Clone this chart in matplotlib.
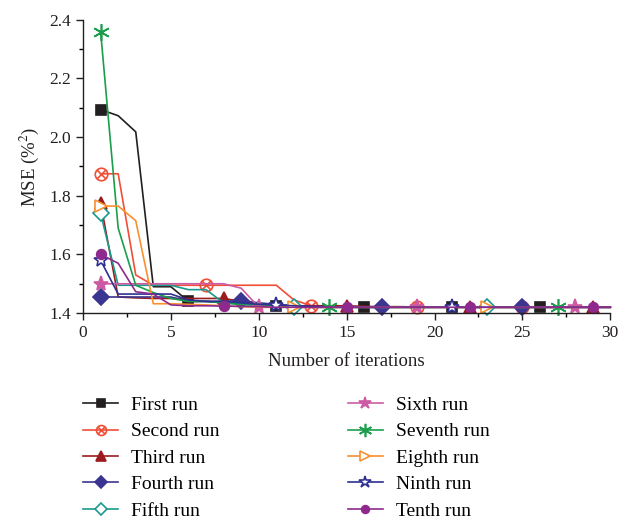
import numpy as np
import matplotlib
matplotlib.use("Agg")
import matplotlib.pyplot as plt
from matplotlib.path import Path
from matplotlib.ticker import MultipleLocator

plt.rcParams["font.family"] = ["Liberation Serif", "DejaVu Serif"]
plt.rcParams["mathtext.fontset"] = "stix"

iterations = list(range(1, 31))

first_run = [2.094, 2.073, 2.018, 1.490, 1.490, 1.440, 1.440, 1.435, 1.432, 1.430,
             1.425, 1.422, 1.420, 1.420, 1.420, 1.420, 1.420, 1.420, 1.420, 1.420,
             1.420, 1.420, 1.420, 1.420, 1.420, 1.420, 1.420, 1.420, 1.420, 1.420]
second_run = [1.875, 1.875, 1.530, 1.495, 1.495, 1.495, 1.495, 1.495, 1.495, 1.495,
              1.495, 1.445, 1.425, 1.425, 1.422, 1.420, 1.420, 1.420, 1.420, 1.420,
              1.420, 1.420, 1.420, 1.420, 1.420, 1.420, 1.420, 1.420, 1.420, 1.420]
third_run = [1.775, 1.455, 1.452, 1.450, 1.450, 1.450, 1.450, 1.450, 1.440, 1.432,
             1.428, 1.425, 1.425, 1.425, 1.425, 1.423, 1.422, 1.422, 1.421, 1.421,
             1.420, 1.420, 1.420, 1.420, 1.420, 1.420, 1.420, 1.420, 1.420, 1.420]
fourth_run = [1.455, 1.455, 1.455, 1.455, 1.455, 1.440, 1.440, 1.440, 1.443, 1.435,
              1.430, 1.425, 1.423, 1.422, 1.421, 1.420, 1.420, 1.420, 1.420, 1.420,
              1.420, 1.420, 1.420, 1.420, 1.420, 1.420, 1.420, 1.420, 1.420, 1.420]
fifth_run = [1.740, 1.495, 1.495, 1.495, 1.495, 1.480, 1.480, 1.435, 1.430, 1.425,
             1.422, 1.420, 1.420, 1.420, 1.420, 1.420, 1.420, 1.420, 1.420, 1.420,
             1.420, 1.420, 1.420, 1.420, 1.420, 1.420, 1.420, 1.420, 1.420, 1.420]
sixth_run = [1.500, 1.500, 1.500, 1.500, 1.500, 1.500, 1.500, 1.500, 1.485, 1.420,
             1.420, 1.420, 1.420, 1.420, 1.420, 1.420, 1.420, 1.420, 1.420, 1.420,
             1.420, 1.420, 1.420, 1.420, 1.420, 1.420, 1.420, 1.420, 1.420, 1.420]
seventh_run = [2.360, 1.690, 1.495, 1.470, 1.450, 1.440, 1.440, 1.435, 1.430, 1.430,
               1.425, 1.420, 1.420, 1.420, 1.420, 1.420, 1.420, 1.420, 1.420, 1.420,
               1.420, 1.420, 1.420, 1.420, 1.420, 1.420, 1.420, 1.420, 1.420, 1.420]
eighth_run = [1.765, 1.765, 1.715, 1.432, 1.432, 1.430, 1.428, 1.425, 1.422, 1.420,
              1.420, 1.420, 1.420, 1.420, 1.420, 1.420, 1.420, 1.420, 1.420, 1.420,
              1.420, 1.420, 1.420, 1.420, 1.420, 1.420, 1.420, 1.420, 1.420, 1.420]
ninth_run = [1.580, 1.465, 1.465, 1.465, 1.465, 1.445, 1.440, 1.440, 1.435, 1.430,
             1.428, 1.425, 1.422, 1.420, 1.420, 1.420, 1.420, 1.420, 1.420, 1.420,
             1.420, 1.420, 1.420, 1.420, 1.420, 1.420, 1.420, 1.420, 1.420, 1.420]
tenth_run = [1.600, 1.570, 1.473, 1.465, 1.428, 1.425, 1.425, 1.424, 1.423, 1.422,
             1.420, 1.420, 1.420, 1.420, 1.420, 1.420, 1.420, 1.420, 1.420, 1.420,
             1.420, 1.420, 1.420, 1.420, 1.420, 1.420, 1.420, 1.420, 1.420, 1.420]

labels = ["First run", "Second run", "Third run", "Fourth run", "Fifth run",
          "Sixth run", "Seventh run", "Eighth run", "Ninth run", "Tenth run"]

# circle with a cross inside, for the second run
circ = Path.unit_circle()
k = np.sqrt(0.5)
cross = Path([(-k, -k), (k, k), (-k, k), (k, -k)],
             [Path.MOVETO, Path.LINETO, Path.MOVETO, Path.LINETO])
otimes = Path.make_compound_path(circ, cross)

styles = [
    dict(color="#231f20", marker="s", ms=7, mfc="#231f20", every=5),
    dict(color="#f04e37", marker=otimes, ms=9, mfc="none", every=6),
    dict(color="#9b1b1e", marker="^", ms=9, mfc="#9b1b1e", every=7),
    dict(color="#3a3590", marker="D", ms=8, mfc="#3a3590", every=8),
    dict(color="#1a9a8f", marker="D", ms=8, mfc="white", every=11),
    dict(color="#cc5ba3", marker="*", ms=11, mfc="#cc5ba3", every=9),
    dict(color="#1b9e4b", marker=(6, 2, 0), ms=12, mfc="#1b9e4b", every=13),
    dict(color="#f7902f", marker=">", ms=9, mfc="white", every=11),
    dict(color="#2e3192", marker="*", ms=11, mfc="white", every=10),
    dict(color="#8e2a8e", marker="o", ms=7, mfc="#8e2a8e", every=7),
]
series = [first_run, second_run, third_run, fourth_run, fifth_run,
          sixth_run, seventh_run, eighth_run, ninth_run, tenth_run]

fig = plt.figure(figsize=(6.21, 5.21), dpi=100)
ax = fig.add_axes([0.1337, 0.399, 0.849, 0.563])

handles = []
for y, lab, st in zip(series, labels, styles):
    h, = ax.plot(iterations, y, color=st["color"], lw=1.2, marker=st["marker"],
                 ms=st["ms"], mfc=st["mfc"], mec=st["color"], mew=1.2,
                 markevery=slice(0, None, st["every"]), label=lab, clip_on=False)
    handles.append(h)

ax.set_xlim(0, 30)
ax.set_ylim(1.4, 2.4)
ax.xaxis.set_major_locator(MultipleLocator(5))
ax.xaxis.set_minor_locator(MultipleLocator(2.5))
ax.yaxis.set_major_locator(MultipleLocator(0.2))
ax.yaxis.set_minor_locator(MultipleLocator(0.1))
ax.yaxis.set_major_formatter(matplotlib.ticker.FormatStrFormatter("%.1f"))
ax.tick_params(which="major", direction="out", length=5, width=1, labelsize=12.5, colors="#231f20")
ax.tick_params(which="minor", direction="out", length=3, width=1)
for s in ["top", "right"]:
    ax.spines[s].set_visible(False)
for s in ["left", "bottom"]:
    ax.spines[s].set_linewidth(1)
    ax.spines[s].set_color("#231f20")

ax.set_xlabel("Number of iterations", fontsize=13.5, labelpad=9, color="#231f20")
ax.set_ylabel("MSE (%$^2$)", fontsize=13.5, labelpad=6, color="#231f20")

fig.legend(handles=handles, ncol=2, loc="upper left", bbox_to_anchor=(0.1337, 0.239),
           frameon=False, fontsize=14, handlelength=1.8, handletextpad=0.67,
           columnspacing=6.6, labelspacing=0.45, markerscale=0.8,
           borderpad=0, borderaxespad=0)

fig.savefig("out.png", dpi=100)
